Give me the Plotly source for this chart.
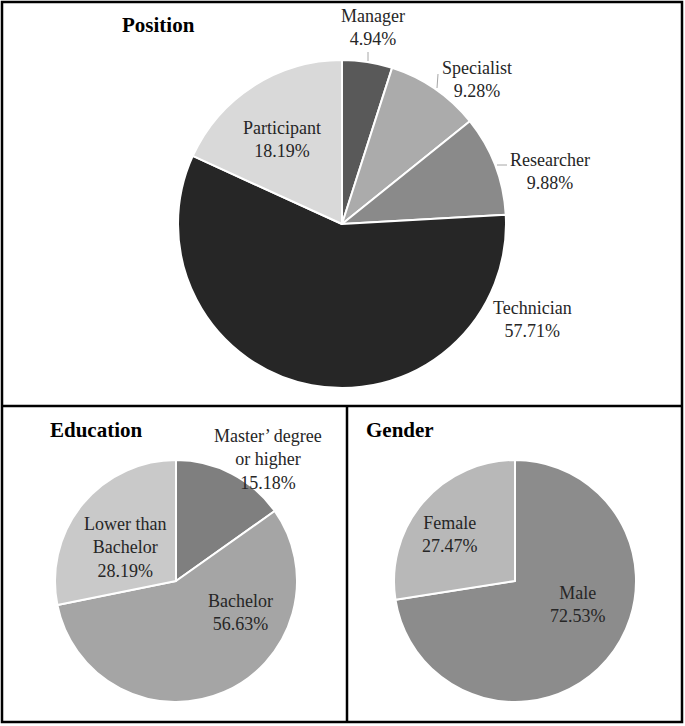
import plotly.graph_objects as go

W, H = 685, 726

# ---- data ----
position_labels = ["Manager", "Specialist", "Researcher", "Technician", "Participant"]
position_values = [4.94, 9.28, 9.88, 57.71, 18.19]
position_colors = ["#595959", "#ababab", "#8a8a8a", "#262626", "#d9d9d9"]

education_labels = ["Master’ degree<br>or higher", "Bachelor", "Lower than<br>Bachelor"]
education_values = [15.18, 56.63, 28.19]
education_colors = ["#7f7f7f", "#a5a5a5", "#c9c9c9"]

gender_labels = ["Male", "Female"]
gender_values = [72.53, 27.47]
gender_colors = ["#8c8c8c", "#b8b8b8"]

SERIF = "Liberation Serif"


def px(x):
    return x / W


def py(y):
    return 1 - y / H


def dom(cx, cy, r):
    return dict(x=[px(cx - r), px(cx + r)], y=[py(cy + r), py(cy - r)])


fig = go.Figure()

pies = [
    (position_labels, position_values, position_colors, (342, 224, 164)),
    (education_labels, education_values, education_colors, (176, 581, 121)),
    (gender_labels, gender_values, gender_colors, (515, 581, 121)),
]
for labels, values, colors, (cx, cy, r) in pies:
    fig.add_trace(go.Pie(
        labels=labels, values=values, sort=False, direction="clockwise",
        rotation=0, textinfo="none", hoverinfo="label+percent",
        marker=dict(colors=colors, line=dict(color="white", width=2)),
        domain=dom(cx, cy, r), showlegend=False,
    ))

# label positions (pixels) – layout only
pos_label_xy = [(373, 28), (477, 79), (550, 171), (532, 319), (282, 139)]
edu_label_xy = [(268, 459), (240, 612), (125, 547)]
gen_label_xy = [(578, 604), (450, 534)]

annotations = []
for labels, values, xy in [
    (position_labels, position_values, pos_label_xy),
    (education_labels, education_values, edu_label_xy),
    (gender_labels, gender_values, gen_label_xy),
]:
    for lab, val, (x, y) in zip(labels, values, xy):
        annotations.append(dict(
            x=px(x), y=py(y), xref="paper", yref="paper",
            text=f"{lab}<br>{val:.2f}%", showarrow=False,
            font=dict(family=SERIF, size=18, color="#262626"),
            align="center", xanchor="center", yanchor="middle",
        ))

for t, (x, y) in [("<b>Position</b>", (158, 25)), ("<b>Education</b>", (96, 430)),
                  ("<b>Gender</b>", (400, 430))]:
    annotations.append(dict(x=px(x), y=py(y), xref="paper", yref="paper", text=t,
                            showarrow=False,
                            font=dict(family=SERIF, size=21, color="black"),
                            xanchor="center", yanchor="middle"))

shapes = []
frame = dict(color="black", width=2.5)
shapes.append(dict(type="rect", xref="paper", yref="paper",
                   x0=px(2), x1=px(682), y0=py(722), y1=py(2), line=frame))
shapes.append(dict(type="line", xref="paper", yref="paper",
                   x0=px(2), x1=px(682), y0=py(406), y1=py(406), line=frame))
shapes.append(dict(type="line", xref="paper", yref="paper",
                   x0=px(347), x1=px(347), y0=py(406), y1=py(722), line=frame))
lead = dict(color="#a6a6a6", width=1)
for (x0, y0, x1, y1) in [(368, 52, 368, 61), (438, 74, 437, 88), (497, 165, 507, 165)]:
    shapes.append(dict(type="line", xref="paper", yref="paper",
                       x0=px(x0), x1=px(x1), y0=py(y0), y1=py(y1), line=lead))

fig.update_layout(
    width=W, height=H, margin=dict(l=0, r=0, t=0, b=0),
    paper_bgcolor="white", plot_bgcolor="white",
    font=dict(family=SERIF),
    annotations=annotations, shapes=shapes,
)

fig.write_html("out.html", config={"displayModeBar": False},
               post_script="document.body.style.margin='0';document.body.style.overflow='hidden';")
